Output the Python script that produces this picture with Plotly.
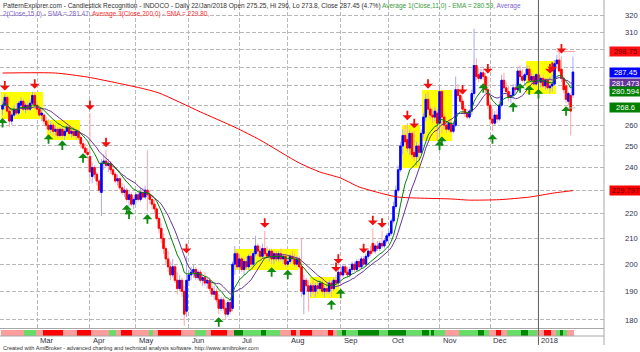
import numpy as np
import pandas as pd
import plotly.graph_objects as go

# ---------------- data ----------------
opens = [268,270,274,267,262,265,268,266,270,272,268,270,268,271,275,270,268,265,265,262,
         260,258,260,257,258,255,258,255,257,259,256,257,255,257,254,251,249,247,245,236,
         240,237,234,229,242,243,241,242,239,237,234,235,231,229,230,226,228,224,226,228,
         226,229,227,230,228,226,224,222,218,214,210,206,202,199,196,199,194,191,194,190,
         183,194,196,197,198,195,197,194,195,193,194,191,189,190,187,184,187,184,182,186,
         184,200,204,199,202,198,201,199,203,200,204,207,205,203,206,204,203,205,202,204,
         202,204,202,203,200,201,203,202,200,202,199,189,194,192,190,192,190,192,191,193,
         190,191,190,193,191,194,193,197,196,199,197,196,198,200,198,201,199,202,200,203,
         205,208,205,207,206,208,207,209,211,212,217,223,230,239,250,255,253,249,256,247,
         245,250,247,256,264,273,268,265,264,266,261,277,264,260,258,261,257,260,278,275,
         272,268,266,264,267,276,291,286,284,287,285,278,270,263,261,265,263,270,283,279,
         277,274,275,279,278,288,285,283,286,289,283,285,281,286,282,284,280,283,279,280,
         281,292,294,289,284,280,272,275,275.25]
highs = [272,276,275,268,266,270,271,272,274,273,271,272,273,277,277,272,270,268,266,264,
         263,262,261,260,259,259,259,258,260,260,258,259,258,258,255,253,251,249,266,242,
         241,238,235,244,246,248,244,243,241,238,237,236,233,232,231,230,229,227,229,230,
         231,231,232,248,230,228,226,223,219,216,212,207,205,201,202,200,197,196,195,192,
         203,198,199,200,199,198,198,196,197,195,195,193,192,191,189,188,188,186,187,188,
         201,207,205,204,203,202,203,204,205,205,211,208,207,208,213,207,206,206,205,205,
         205,206,204,204,202,204,205,204,203,203,210,196,195,194,193,194,193,194,194,194,
         192,193,194,194,195,196,199,199,200,200,199,199,201,201,202,202,203,203,204,206,
         207,214,208,209,209,213,210,212,213,218,225,232,241,252,258,260,261,258,257,257,
         252,251,258,266,276,277,270,268,269,268,280,278,266,262,262,263,262,285,281,278,
         274,270,268,268,278,312,295,290,289,289,287,285,272,268,267,268,272,286,287,282,
         280,277,281,281,290,291,289,287,291,291,287,286,287,289,285,286,284,284,285,286,
         294,297,298.75,296,285,281,277,276,296]
lows = [265,268,266,259,260,264,265,265,268,267,266,267,267,270,268,266,264,262,260,258,
        257,256,255,255,254,254,254,253,256,255,254,254,253,253,249,248,246,244,234,233,
        235,232,229,219,239,240,238,237,236,233,232,230,228,227,225,223,223,222,224,225,
        225,226,226,221,224,222,220,217,212,208,204,200,197,194,195,193,189,190,188,178,
        181,192,194,195,194,194,193,192,192,191,190,188,187,186,182,183,183,180,181,182,
        183,196,198,197,197,196,198,198,199,199,203,203,202,202,203,202,201,200,200,201,
        201,201,200,199,199,200,201,199,199,198,188,182,190,183,188,189,188,189,190,189,
        188,189,189,188,190,192,192,192,195,196,195,195,197,197,197,198,198,199,199,202,
        203,204,204,205,205,206,206,208,209,211,216,222,229,238,246,250,247,246,244,243,
        241,244,246,254,262,266,263,261,262,253,254,256,258,256,257,256,256,259,273,271,
        266,264,263,263,265,274,283,282,283,283,276,268,260,257,260,261,262,269,277,275,
        272,271,273,276,277,283,282,281,284,282,281,280,280,280,279,279,278,278,276,277,
        280,289,287,282,276,271,270,255,273.8]
closes = [270,274,267,262,265,268,266,271,272,268,270,268,271,275,270,268,265,266,262,260,
          258,260,257,258,255,258,255,257,259,256,257,255,257,254,251,249,247,246,238,240,
          237,234,230,242,243,241,242,239,237,234,235,231,229,230,226,228,224,226,228,226,
          229,227,230,228,226,224,222,218,214,210,206,202,199,196,199,194,191,194,190,182,
          194,196,197,198,195,197,194,195,193,194,191,189,190,187,184,187,184,182,186,183,
          200,204,199,202,198,201,199,203,200,204,207,205,203,206,204,203,205,202,204,202,
          204,202,203,200,201,203,202,200,202,199,190,194,192,190,192,190,192,191,193,190,
          191,190,193,191,194,193,197,196,199,197,196,198,200,198,201,199,202,200,203,205,
          204,205,207,206,208,207,209,211,212,217,223,230,239,250,255,252,249,256,246,245,
          250,247,256,264,273,268,265,264,267,261,277,264,260,258,261,257,260,278,275,272,
          268,266,264,267,276,291,285,284,287,285,278,270,263,261,265,263,270,283,279,277,
          274,275,279,278,288,285,283,286,289,283,285,281,286,282,284,280,283,279,280,281,
          292,294,288,284,278,273,276,267,287.45]

month_labels = ["Mar", "Apr", "May", "Jun", "Jul", "Aug", "Sep", "Oct", "Nov", "Dec", "2018"]
month_starts = [15, 38, 58, 81, 103, 124, 147, 168, 190, 212, 233]

price_ticks = [180, 190, 200, 210, 220, 230, 240, 250, 260, 270, 280, 290, 300, 310, 320]
# tick labels hidden behind the value tags in the reference
hidden_ticks = [230, 270, 280, 290, 300]

sma200_idx = [0, 23, 37, 50, 60, 68, 86, 101, 112, 129, 138, 147, 155, 164, 172, 195, 203, 216, 229, 240, 248]
sma200_val = [286.9, 286.9, 284.7, 281.5, 278.9, 276.3, 266.6, 259.0, 252.8, 242.1, 238.0, 235.3,
              231.4, 228.8, 227.0, 226.2, 225.7, 225.9, 227.0, 228.8, 229.797]

pattern_start = [0, 20, 101, 134, 174, 183, 228]
pattern_end = [17, 33, 128, 146, 181, 195, 240]
pattern_low = [263.1, 252.6, 197.9, 187.8, 239.7, 252.4, 275.7]
pattern_high = [276.6, 262.8, 205.9, 195.3, 260.3, 277.6, 293.7]

bear_signals = [1, 14, 38, 45, 80, 114, 145, 146, 157, 161, 165, 176, 179, 185, 200, 211, 238, 239, 243]
bull_signals = [0, 20, 26, 35, 54, 55, 63, 94, 117, 124, 143, 147, 190, 191, 209, 213, 222, 225, 229, 233, 245]

ribbon_codes = ["lr", "lg", "lr", "r", "lr", "r", "lr", "lg", "lr", "r",
                "lr", "lg", "lr", "r", "lr", "lg", "lr", "r", "lr", "g",
                "lg", "g", "lg", "lr", "r", "lr", "r", "lr", "r", "lr",
                "lg", "g", "lg", "g", "lg", "g", "lg", "g", "lg", "g",
                "lg", "lr", "lg", "g", "lg", "lr", "r", "lr", "lg", "g",
                "lg", "lr", "r", "lr", "lg", "g", "lg", "lr"]
ribbon_lengths = [10, 5, 3, 9, 6, 6, 8, 3, 2, 5,
                  7, 2, 2, 10, 6, 5, 2, 7, 3, 4,
                  8, 2, 6, 5, 2, 2, 5, 7, 2, 2,
                  2, 2, 5, 9, 4, 8, 7, 3, 1, 1,
                  5, 6, 8, 3, 2, 3, 2, 3, 6, 3,
                  4, 3, 3, 2, 2, 1, 2, 3]

resistance_level, resistance_from, resistance_to = 298.75, 241, 249
support_level, support_from, support_to = 268.6, 245, 249

tag_values = [298.75, 287.45, 281.473, 280.594, 268.6, 229.797]
tag_texts = ["298.75", "287.45", "281.473", "280.594", "268.6", "229.797"]

# ---------------- styling ----------------
FONT = "Liberation Sans, Arial, sans-serif"
FS = 7.6
UP_BODY, UP_WICK = "#0000FF", "#A8A8FF"
DN_BODY, DN_WICK = "#FF0000", "#FFA8A8"
EMA_C, SMA_C, SMA200_C = "#008000", "#663399", "#FF0000"
ribbon_palette = {"lr": "#FF9C9C", "r": "#FF0000", "lg": "#66DD66", "g": "#008800"}
tag_bg = ["#FF1010", "#0000FF", "#663399", "#008000", "#008000", "#FF0000"]
tag_fg = ["#700000", "white", "white", "white", "white", "#600000"]
tag_shift = [0, 0, 0, -7, 0, 0]

n = len(closes)
x = list(range(n))
s = pd.Series(closes, dtype=float)
ema11 = s.ewm(span=11, adjust=False).mean()
sma15 = s.rolling(15, min_periods=1).mean()
body_hi = [max(o, c) for o, c in zip(opens, closes)]
body_lo = [min(o, c) for o, c in zip(opens, closes)]

ribbon_colors = []
for code, ln in zip(ribbon_codes, ribbon_lengths):
    ribbon_colors += [ribbon_palette[code]] * ln

H_PLOT = 345.0
price_dom = [17 / H_PLOT, 1.0]
ribbon_dom = [9 / H_PLOT, 15 / H_PLOT]

fig = go.Figure()

# pattern zones (yellow) as bars: the bar layer sits under the candlesticks
fig.add_trace(go.Bar(
    x=[(a + b) / 2 for a, b in zip(pattern_start, pattern_end)],
    y=[h - l for l, h in zip(pattern_low, pattern_high)],
    base=pattern_low,
    width=[b - a + 1 for a, b in zip(pattern_start, pattern_end)],
    marker=dict(color="#FFFF00", line=dict(width=0)),
    hoverinfo="skip", showlegend=False))

# wicks
fig.add_trace(go.Candlestick(
    x=x, open=opens, high=highs, low=lows, close=closes,
    increasing=dict(line=dict(color=UP_WICK, width=1), fillcolor=UP_WICK),
    decreasing=dict(line=dict(color=DN_WICK, width=1), fillcolor=DN_WICK),
    whiskerwidth=0, hoverinfo="skip", showlegend=False))
# bodies
fig.add_trace(go.Candlestick(
    x=x, open=opens, high=body_hi, low=body_lo, close=closes,
    increasing=dict(line=dict(color=UP_BODY, width=1), fillcolor=UP_BODY),
    decreasing=dict(line=dict(color=DN_BODY, width=1), fillcolor=DN_BODY),
    whiskerwidth=0, hoverinfo="skip", showlegend=False))

fig.add_trace(go.Scatter(x=sma200_idx, y=sma200_val, mode="lines",
                         line=dict(color=SMA200_C, width=1, shape="spline", smoothing=0.6),
                         hoverinfo="skip", showlegend=False))
fig.add_trace(go.Scatter(x=x, y=sma15, mode="lines", line=dict(color=SMA_C, width=1),
                         hoverinfo="skip", showlegend=False))
fig.add_trace(go.Scatter(x=x, y=ema11, mode="lines", line=dict(color=EMA_C, width=1),
                         hoverinfo="skip", showlegend=False))
fig.add_trace(go.Scatter(x=[resistance_from, resistance_to], y=[resistance_level] * 2, mode="lines",
                         line=dict(color="#FF9C9C", width=1), hoverinfo="skip", showlegend=False))
fig.add_trace(go.Scatter(x=[support_from, support_to], y=[support_level] * 2, mode="lines",
                         line=dict(color="#A8C8A8", width=1), hoverinfo="skip", showlegend=False))

fig.add_trace(go.Bar(x=x, y=[1] * n, marker=dict(color=ribbon_colors, line=dict(width=0)),
                     width=1, yaxis="y2", hoverinfo="skip", showlegend=False))

shapes = []
shapes.append(dict(type="line", xref="x", yref="paper", x0=month_starts[-1], x1=month_starts[-1],
                   y0=0, y1=1, line=dict(color="#606060", width=1)))
shapes.append(dict(type="line", xref="paper", yref="paper", x0=0, x1=1, y0=9 / H_PLOT, y1=9 / H_PLOT,
                   line=dict(color="#A8A8A8", width=1)))
shapes.append(dict(type="line", xref="paper", yref="paper", x0=1, x1=1, y0=0, y1=1,
                   line=dict(color="#A8A8A8", width=1)))

ann = []
for i in bear_signals:
    ann.append(dict(x=i, y=np.log10(highs[i]), xref="x", yref="y", text="", showarrow=True,
                    arrowhead=1, arrowsize=0.9, arrowwidth=1.8, arrowcolor="#F01010",
                    ax=0, ay=-14, standoff=3))
for i in bull_signals:
    ann.append(dict(x=i, y=np.log10(lows[i]), xref="x", yref="y", text="", showarrow=True,
                    arrowhead=1, arrowsize=0.9, arrowwidth=1.8, arrowcolor="#108A10",
                    ax=0, ay=14, standoff=3))
for v, t, bg, fg, sh in zip(tag_values, tag_texts, tag_bg, tag_fg, tag_shift):
    ann.append(dict(x=1 + 5 / 604, y=np.log10(v), xref="paper", yref="y", xanchor="left",
                    yanchor="middle", yshift=sh, text=t, showarrow=False, bgcolor=bg,
                    font=dict(color=fg, size=FS, family=FONT), width=31, height=9,
                    borderpad=0, align="center"))
for m, lab in zip(month_starts, month_labels):
    ann.append(dict(x=m, y=4.5 / H_PLOT, xref="x", yref="paper", xanchor="left", yanchor="middle",
                    xshift=1, text=lab, showarrow=False,
                    font=dict(color="#303040", size=FS, family=FONT)))

TFS = 6.5
title1 = ("PatternExplorer.com - Candlestick Recognition - INDOCO - Daily 22/Jan/2018 Open 275.25, Hi 296, "
          "Lo 273.8, Close 287.45 (4.7%) "
          "<span style='color:#3A9A3A'>Average 1(Close,11,0) - EMA = 280.59, </span>"
          "<span style='color:#7F5FCF'>Average</span>")
title2 = ("<span style='color:#7F5FCF'>2(Close,15,0) - SMA = 281.47, </span>"
          "<span style='color:#FF3030'>Average 3(Close,200,0) - SMA = 229.80, </span>")
ann.append(dict(x=0, y=1, xref="paper", yref="paper", xanchor="left", yanchor="top", xshift=1,
                yshift=0, text=title1, showarrow=False, font=dict(color="#303030", size=TFS, family=FONT)))
ann.append(dict(x=0, y=1, xref="paper", yref="paper", xanchor="left", yanchor="top", xshift=1,
                yshift=-8, text=title2, showarrow=False, font=dict(color="#303030", size=TFS, family=FONT)))
ann.append(dict(x=0, y=-2.5 / H_PLOT, xref="paper", yref="paper", xanchor="left", yanchor="middle",
                xshift=1, text="Created with AmiBroker - advanced charting and technical analysis software. "
                               "http://www.amibroker.com",
                showarrow=False, font=dict(color="#303030", size=5.6, family=FONT)))

y_lo, y_hi = 177.3, 329.3
fig.update_layout(
    width=640, height=352,
    margin=dict(l=0, r=36, t=0, b=7),
    paper_bgcolor="white", plot_bgcolor="white",
    font=dict(family=FONT, size=FS, color="#303040"),
    showlegend=False, boxgap=0.1, bargap=0, barmode="overlay",
    xaxis=dict(range=[-1.1, 261.5], tickmode="array", tickvals=month_starts, showticklabels=False,
               showgrid=True, gridcolor="#B8B8B8", griddash="4px,2px", gridwidth=1,
               zeroline=False, showline=True, linecolor="#A8A8A8", ticks="",
               rangeslider=dict(visible=False), fixedrange=True),
    yaxis=dict(type="log", domain=price_dom, range=[np.log10(y_lo), np.log10(y_hi)], side="right",
               tickmode="array", tickvals=price_ticks,
               ticktext=["" if v in hidden_ticks else str(v) for v in price_ticks],
               showgrid=True, gridcolor="#B8B8B8", griddash="4px,2px", gridwidth=1,
               zeroline=False, showline=False, ticks="", ticklabelstandoff=20,
               tickfont=dict(size=FS, color="#303050", family=FONT), automargin=False),
    yaxis2=dict(domain=ribbon_dom, range=[0, 1], showticklabels=False, showgrid=False,
                zeroline=False, anchor="x", fixedrange=True),
    shapes=shapes, annotations=ann,
)

fig.write_html("out.html")
